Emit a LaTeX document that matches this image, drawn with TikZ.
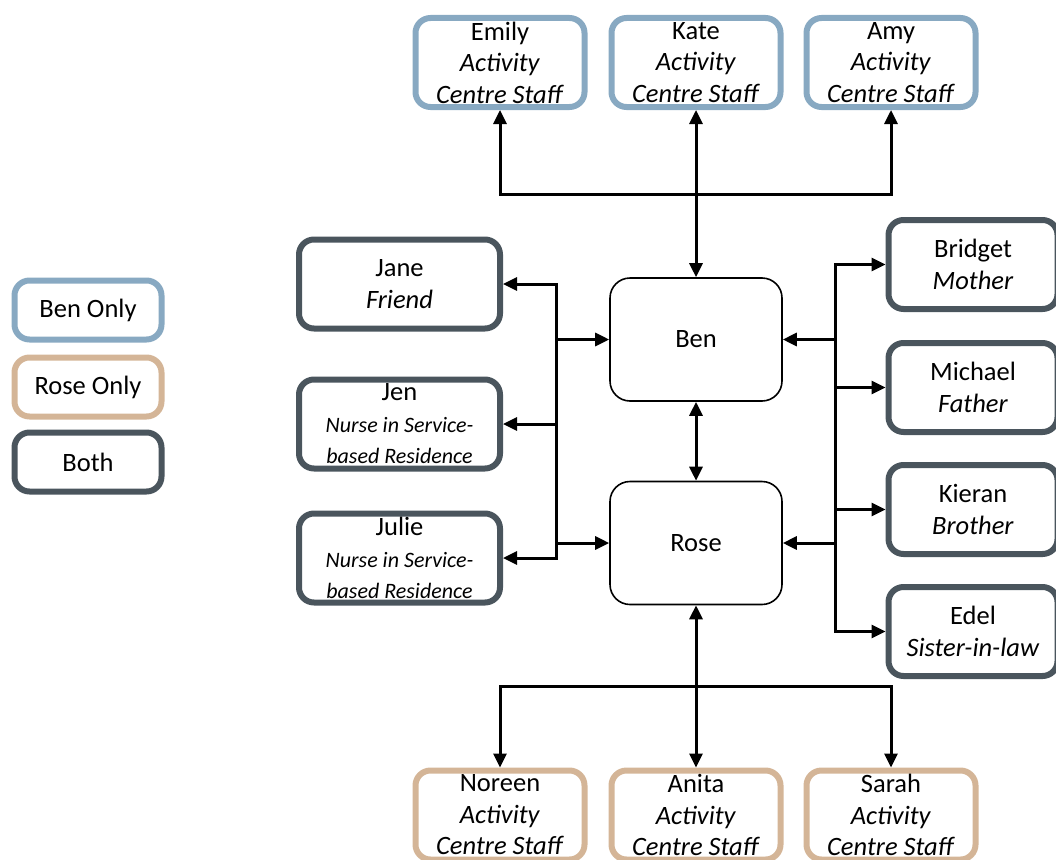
\documentclass[tikz,border=0pt]{standalone}
\usepackage{fontspec}
\setmainfont{Carlito}
\usetikzlibrary{arrows.meta}

\definecolor{benblue}{HTML}{88A9C2}
\definecolor{rosetan}{HTML}{D4B597}
\definecolor{bothgrey}{HTML}{4A555D}
\newcommand{\role}[1]{\textit{#1}}
\newcommand{\nurserole}[1]{{\fontsize{22}{29}\selectfont\itshape #1}}

\begin{document}
\begin{tikzpicture}[x=1pt,y=-1pt,
        >={Triangle[length=14pt,width=13pt]},
        person/.style={draw, rounded corners=15pt, line width=6pt, align=center, inner sep=0pt,
            minimum width=169pt, minimum height=89pt, font=\fontsize{26.5}{31.5}\selectfont},
        benbox/.style={person, draw=benblue},
        rosebox/.style={person, draw=rosetan},
        bothbox/.style={person, draw=bothgrey},
        widebox/.style={minimum width=201pt},
        keybox/.style={minimum width=147pt, minimum height=59pt},
        mainbox/.style={draw, rounded corners=20pt, line width=1.6pt, minimum width=172pt,
            minimum height=123pt, font=\fontsize{26.5}{31.5}\selectfont},
        link/.style={line width=3pt}]
    \useasboundingbox (0,0) rectangle (1056,859);

    % legend
    \node[benbox, keybox] (keyben) at (88,310) {Ben Only};
    \node[rosebox, keybox] (keyrose) at (88,387) {Rose Only};
    \node[bothbox, keybox] (keyboth) at (88,462) {Both};

    % the two of them
    \node[mainbox] (ben) at (696,339.5) {Ben};
    \node[mainbox] (rose) at (696,543) {Rose};

    % staff
    \node[benbox] (emily) at (500,62.5) {Emily\\\role{Activity}\\\role{Centre Staff}};
    \node[benbox] (kate) at (696,62.5) {Kate\\\role{Activity}\\\role{Centre Staff}};
    \node[benbox] (amy) at (891,62.5) {Amy\\\role{Activity}\\\role{Centre Staff}};
    \node[rosebox] (noreen) at (500,815) {Noreen\\\role{Activity}\\\role{Centre Staff}};
    \node[rosebox] (anita) at (696,815) {Anita\\\role{Activity}\\\role{Centre Staff}};
    \node[rosebox] (sarah) at (891,815) {Sarah\\\role{Activity}\\\role{Centre Staff}};

    % shared
    \node[bothbox, widebox] (jane) at (399.5,284) {Jane\\\role{Friend}};
    \node[bothbox, widebox] (jen) at (399.5,424)
        {Jen\\\nurserole{Nurse in Service-}\\\nurserole{based Residence}};
    \node[bothbox, widebox] (julie) at (399.5,558)
        {Julie\\\nurserole{Nurse in Service-}\\\nurserole{based Residence}};
    \node[bothbox] (bridget) at (973,264.5) {Bridget\\\role{Mother}};
    \node[bothbox] (michael) at (973,387.5) {Michael\\\role{Father}};
    \node[bothbox] (kieran) at (973,509.5) {Kieran\\\role{Brother}};
    \node[bothbox] (edel) at (973,631.5) {Edel\\\role{Sister-in-law}};

    \coordinate (tbus) at (696,194);
    \coordinate (bbus) at (696,686);
    \coordinate (lbus) at (556,400);
    \coordinate (rbus) at (835,400);

    % top and bottom
    \draw[link,<->] (ben.north) -- (kate.south);
    \draw[link,->] (tbus) -| (emily.south);
    \draw[link,->] (tbus) -| (amy.south);
    \draw[link,<->] (ben.south) -- (rose.north);
    \draw[link,<->] (rose.south) -- (anita.north);
    \draw[link,->] (bbus) -| (noreen.north);
    \draw[link,->] (bbus) -| (sarah.north);

    % left
    \draw[link,->] (lbus |- ben.west) |- (jane.east);
    \draw[link] (lbus |- ben.west) -- (lbus |- rose.west);
    \draw[link,->] (lbus |- ben.west) -- (ben.west);
    \draw[link,->] (lbus |- jen.east) -- (jen.east);
    \draw[link,->] (lbus |- rose.west) |- (julie.east);
    \draw[link,->] (lbus |- rose.west) -- (rose.west);

    % right
    \draw[link,->] (rbus |- ben.east) |- (bridget.west);
    \draw[link] (rbus |- ben.east) -- (rbus |- rose.east);
    \draw[link,->] (rbus |- ben.east) -- (ben.east);
    \draw[link,->] (rbus |- michael.west) -- (michael.west);
    \draw[link,->] (rbus |- kieran.west) -- (kieran.west);
    \draw[link,->] (rbus |- rose.east) |- (edel.west);
    \draw[link,->] (rbus |- rose.east) -- (rose.east);
\end{tikzpicture}
\end{document}
